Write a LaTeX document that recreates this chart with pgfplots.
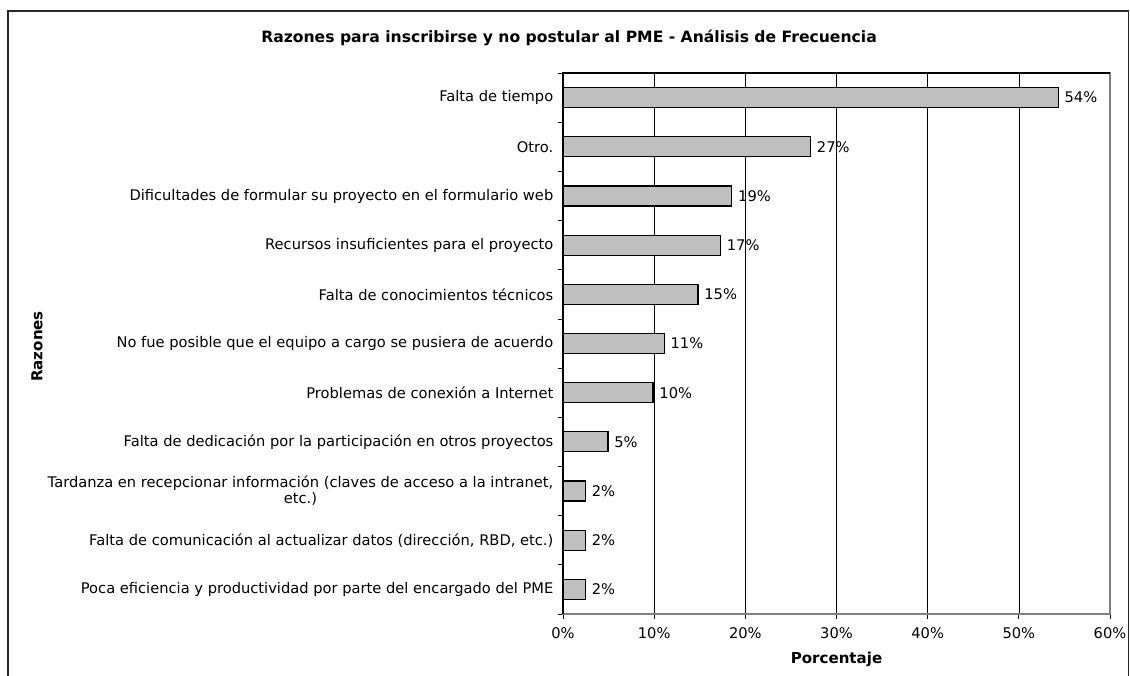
\documentclass[border=0pt]{standalone}
\usepackage{fontspec}
\setmainfont{DejaVu Sans}
\usepackage{pgfplots}
\pgfplotsset{compat=1.18}
\usepackage{pgfplotstable}

\pgfplotstableread{
y v
0 54.32
1 27.16
2 18.52
3 17.28
4 14.81
5 11.11
6 9.88
7 4.94
8 2.47
9 2.47
10 2.47
}\datatable

\begin{document}
\begin{tikzpicture}
\useasboundingbox (0,0) rectangle (847.5pt,506.25pt);
\clip (0,0) rectangle (847.5pt,506.25pt);
\draw[line width=1.1pt, black!85] (6pt,-20pt) rectangle (846.5pt,498pt);
\node[font=\fontsize{11.7}{13}\selectfont\bfseries] at (426.75pt,477.75pt) {Razones para inscribirse y no postular al PME - Análisis de Frecuencia};
\node[rotate=90, font=\fontsize{11.3}{13}\selectfont\bfseries] at (27.75pt,246.4pt) {Razones};
\begin{axis}[
  at={(422.25pt,45.75pt)}, anchor=south west,
  scale only axis, width=410.25pt, height=405.75pt,
  xbar, bar width=15pt,
  xmin=0, xmax=60, ymin=-0.5, ymax=10.5, y dir=reverse,
  xtick={0,10,...,60},
  xticklabels={0\%,10\%,20\%,30\%,40\%,50\%,60\%},
  ytick={0,...,10},
  yticklabels={{Falta de tiempo},{Otro.},{Dificultades de formular su proyecto en el formulario web},{Recursos insuficientes para el proyecto},{Falta de conocimientos técnicos},{No fue posible que el equipo a cargo se pusiera de acuerdo},{Problemas de conexión a Internet},{Falta de dedicación por la participación en otros proyectos},{Tardanza en recepcionar información (claves de acceso a la intranet,\\etc.)},{Falta de comunicación al actualizar datos (dirección, RBD, etc.)},{Poca eficiencia y productividad por parte del encargado del PME}},
  minor ytick={-0.5,0.5,...,10.5},
  tick align=outside, xtick pos=bottom, ytick pos=left,
  major tick length=3.75pt, minor tick length=3.75pt,
  major y tick style={draw=none},
  xmajorgrids, major x grid style={black, line width=0.5pt},
  axis line style={black!50, line width=0.9pt},
  tick style={black, line width=0.6pt},
  ticklabel style={font=\fontsize{11}{12}\selectfont},
  xticklabel style={yshift=-3pt},
  yticklabel style={align=center},
  xlabel={Porcentaje},
  xlabel style={font=\fontsize{11.3}{13}\selectfont\bfseries, yshift=-3.2pt},
  nodes near coords={\pgfmathprintnumber[fixed,precision=0,assume math mode=true]{\pgfplotspointmeta}\%},
  nodes near coords style={font=\fontsize{11}{12}\selectfont, anchor=west, xshift=1pt, text=black},
  point meta=x,
  clip=false,
]
\addplot[fill=black!25, draw=black, line width=0.9pt] table[x=v,y=y]{\datatable};
\draw[black, line width=0.9pt] (rel axis cs:0,0) -- (rel axis cs:0,1) -- (rel axis cs:1,1);
\end{axis}
\end{tikzpicture}
\end{document}
